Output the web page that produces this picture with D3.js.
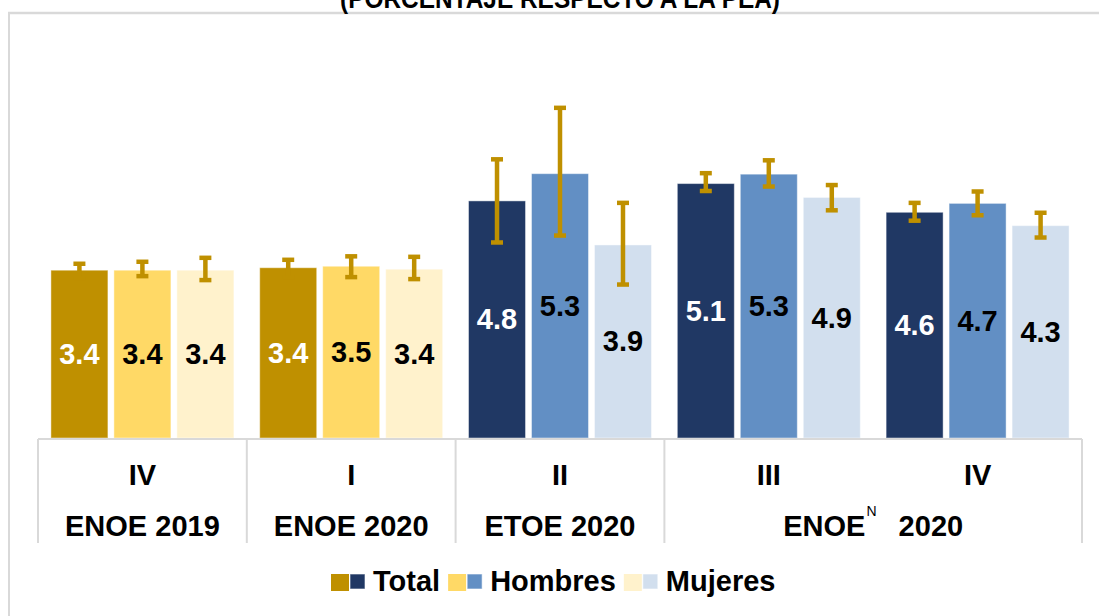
<!DOCTYPE html>
<html><head><meta charset="utf-8">
<script src="https://cdn.jsdelivr.net/npm/d3@7/dist/d3.min.js"></script>
<style>
html,body{margin:0;padding:0;background:#fff;}
svg{display:block;font-family:"Liberation Sans",Arial,sans-serif;}
</style></head>
<body>
<svg id="chart" width="1099" height="616"></svg>
<script>
// ---- data ----
const title = "(PORCENTAJE RESPECTO A LA PEA)";
const categories = ["IV-2019", "I-2020", "II-2020", "III-2020", "IV-2020"];
const quarterLabels = ["IV", "I", "II", "III", "IV"];
const surveyGroups = ["ENOE 2019", "ENOE 2020", "ETOE 2020", "ENOE_N 2020"];
const surveyGroupOf = [0, 1, 2, 3, 3];
const series = ["Total", "Hombres", "Mujeres"];
const totalValues   = [3.39, 3.44, 4.79, 5.14, 4.56];
const hombresValues = [3.39, 3.47, 5.34, 5.33, 4.74];
const mujeresValues = [3.39, 3.41, 3.90, 4.86, 4.29];
const totalLow   = [3.22, 3.24, 3.95, 4.99, 4.39];
const totalHigh  = [3.52, 3.60, 5.63, 5.35, 4.75];
const hombresLow  = [3.27, 3.25, 4.09, 5.08, 4.50];
const hombresHigh = [3.56, 3.67, 6.67, 5.61, 4.98];
const mujeresLow  = [3.19, 3.21, 3.10, 4.60, 4.05];
const mujeresHigh = [3.64, 3.66, 4.75, 5.11, 4.55];
const paletteScheme = [0, 0, 1, 1, 1]; // 0 = ENOE gold, 1 = blue
const goldColors = ["#BF9000", "#FFD966", "#FFF2CC"];
const blueColors = ["#203864", "#628FC4", "#D2DFEE"];
const labelColors = ["#ffffff", "#000000", "#000000"];
const errorColor = "#BF9000";

const valuesBySeries = [totalValues, hombresValues, mujeresValues];
const lowBySeries = [totalLow, hombresLow, mujeresLow];
const highBySeries = [totalHigh, hombresHigh, mujeresHigh];

// ---- layout ----
const svg = d3.select("#chart");
const baseY = 438;
const plotLeft = 38, plotRight = 1082;
const y = d3.scaleLinear().domain([0, 7]).range([baseY, baseY - 7 * 49.5]);
const x = d3.scaleBand().domain(categories).range([plotLeft, plotRight]).paddingInner(0).paddingOuter(0);
const xs = d3.scaleBand().domain(series).range([0, x.bandwidth()]).paddingInner(0.095).paddingOuter(0.205);

// frame
svg.append("line").attr("x1", 8).attr("x2", 1099).attr("y1", 13).attr("y2", 13)
  .attr("stroke", "#d9d9d9").attr("stroke-width", 2.5);
svg.append("line").attr("x1", 9).attr("x2", 9).attr("y1", 12).attr("y2", 616)
  .attr("stroke", "#d9d9d9").attr("stroke-width", 2);

// title (cut off at top, as in the reference)
svg.append("text").attr("x", 560).attr("y", 8).attr("text-anchor", "middle")
  .attr("font-size", 27).attr("font-weight", "bold").attr("fill", "#000")
  .attr("textLength", 440).attr("lengthAdjust", "spacingAndGlyphs")
  .text(title);

// build flat data
const bars = [];
categories.forEach((c, i) => {
  series.forEach((s, j) => {
    const pal = paletteScheme[i] === 0 ? goldColors : blueColors;
    bars.push({cat: c, ser: s, j, v: valuesBySeries[j][i], lo: lowBySeries[j][i], hi: highBySeries[j][i], color: pal[j], lc: labelColors[j]});
  });
});

const g = svg.append("g");
g.selectAll("rect.bar").data(bars).enter().append("rect")
  .attr("class", "bar")
  .attr("x", d => x(d.cat) + xs(d.ser))
  .attr("width", xs.bandwidth())
  .attr("y", d => y(d.v))
  .attr("height", d => y(0) - y(d.v))
  .attr("fill", d => d.color)
  .attr("stroke", "rgba(255,255,255,0.45)").attr("stroke-width", 1);

// error bars
const eb = g.selectAll("g.eb").data(bars).enter().append("g").attr("class", "eb")
  .attr("transform", d => `translate(${x(d.cat) + xs(d.ser) + xs.bandwidth() / 2},0)`);
eb.append("line").attr("x1", 0).attr("x2", 0).attr("y1", d => y(d.lo)).attr("y2", d => y(d.hi))
  .attr("stroke", errorColor).attr("stroke-width", 4.5);
eb.append("line").attr("x1", -6).attr("x2", 6).attr("y1", d => y(d.lo)).attr("y2", d => y(d.lo))
  .attr("stroke", errorColor).attr("stroke-width", 4.5);
eb.append("line").attr("x1", -6).attr("x2", 6).attr("y1", d => y(d.hi)).attr("y2", d => y(d.hi))
  .attr("stroke", errorColor).attr("stroke-width", 4.5);

// value labels
g.selectAll("text.val").data(bars).enter().append("text")
  .attr("class", "val")
  .attr("x", d => x(d.cat) + xs(d.ser) + xs.bandwidth() / 2)
  .attr("y", d => (y(d.v) + y(0)) / 2 + 10)
  .attr("text-anchor", "middle")
  .attr("font-size", 29).attr("font-weight", "bold")
  .attr("fill", d => d.lc)
  .text(d => d3.format(".1f")(d.v));

// category axis
const axisColor = "#d9d9d9";
svg.append("line").attr("x1", plotLeft).attr("x2", plotRight).attr("y1", 439).attr("y2", 439)
  .attr("stroke", axisColor).attr("stroke-width", 2);
// dividers at group boundaries
const dividerXs = [];
surveyGroups.forEach((gname, gi) => {
  const first = surveyGroupOf.indexOf(gi);
  dividerXs.push(x(categories[first]));
});
dividerXs.push(plotRight);
svg.selectAll("line.div").data(dividerXs).enter().append("line")
  .attr("x1", d => d).attr("x2", d => d).attr("y1", 439).attr("y2", 543)
  .attr("stroke", axisColor).attr("stroke-width", 2);

svg.selectAll("text.q").data(categories).enter().append("text")
  .attr("x", d => x(d) + x.bandwidth() / 2).attr("y", 485)
  .attr("text-anchor", "middle").attr("font-size", 29).attr("font-weight", "bold")
  .text((d, i) => quarterLabels[i]);

surveyGroups.forEach((gname, gi) => {
  const idx = categories.filter((c, i) => surveyGroupOf[i] === gi);
  const cx = (x(idx[0]) + x(idx[idx.length - 1]) + x.bandwidth()) / 2;
  const t = svg.append("text").attr("x", cx).attr("y", 536).attr("text-anchor", "middle")
    .attr("font-size", 29).attr("font-weight", "bold");
  if (gname.includes("_N")) {
    const parts = gname.split("_N");
    t.append("tspan").text(parts[0]);
    t.append("tspan").attr("dy", -20).attr("dx", 1).attr("font-size", 14).attr("font-weight", "normal").text("N");
    t.append("tspan").attr("dy", 20).attr("dx", 14).text(parts[1]);
  } else {
    t.text(gname);
  }
});

// legend
const legend = svg.append("g");
let lx = 331;
series.forEach((s, j) => {
  legend.append("rect").attr("x", lx).attr("y", 574).attr("width", 18).attr("height", 17).attr("fill", goldColors[j]);
  legend.append("rect").attr("x", lx + 19).attr("y", 574).attr("width", 15).attr("height", 15).attr("fill", blueColors[j])
    .attr("stroke", "rgba(255,255,255,0.6)").attr("stroke-width", 1);
  const t = legend.append("text").attr("x", lx + 42).attr("y", 591)
    .attr("font-size", 29).attr("font-weight", "bold").attr("fill", "#000").text(s);
  lx = lx + 42 + t.node().getComputedTextLength() + 8;
});
</script>
</body></html>
